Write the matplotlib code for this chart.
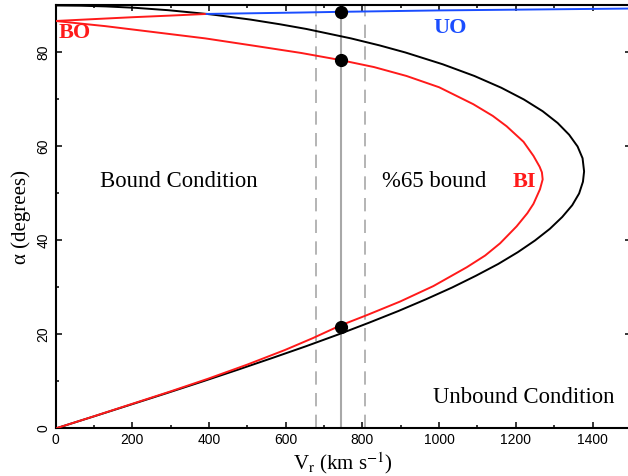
#%% IMPORTS
import matplotlib
matplotlib.use("Agg")
import numpy as np
import matplotlib.pyplot as plt
from matplotlib.ticker import MultipleLocator

#%% DATA
# black curve: bound / unbound limit, Vr [km/s] vs alpha [deg]
black_vr = [0, 97, 193, 289, 383, 475, 565, 653, 737, 817, 894, 966, 1034, 1096,
            1154, 1205, 1250, 1289, 1321, 1347, 1365, 1375, 1378,
            1374, 1361, 1339, 1309, 1270, 1221, 1162, 1092, 1009, 912, 845, 770, 654,
            585, 508, 415, 394, 293, 208, 131, 66, 0]
black_alpha = [0, 2.5, 5, 7.5, 10, 12.5, 15, 17.5, 20, 22.5, 25, 27.5, 30, 32.5,
               35, 37.5, 40, 42.5, 45, 47.5, 50, 52.5, 54.7,
               57.5, 60, 62.5, 65, 67.5, 70, 72.5, 75, 77.5, 80, 81.5, 83, 85,
               86, 87, 88, 88.2, 89, 89.5, 89.8, 89.95, 90]

# red curve: 65% bound limit (BI lower/upper branch, BO)
red_vr = [0, 100, 198, 300, 398, 500, 598, 670, 742, 811, 898, 985, 1072, 1120,
          1159, 1202, 1230, 1246, 1263, 1270, 1268, 1262, 1246, 1220, 1176, 1140,
          1089, 1000, 915, 830, 742, 640, 520, 390, 260, 130, 0]
red_alpha = [0, 2.6, 5.2, 7.9, 10.6, 13.6, 16.7, 19.2, 21.9, 24.1, 27.0, 30.3, 34.3, 36.8,
             39.4, 43.0, 45.8, 47.8, 50.9, 53.0, 54.5, 55.7, 58.0, 61.0, 64.3, 66.5,
             69.0, 72.6, 75.0, 76.9, 78.4, 79.9, 81.4, 83.0, 84.3, 85.6, 86.7]

# upper solution: red part (BO) then blue part (UO)
bo_vr = [0, 100, 200, 300, 394]
bo_alpha = [86.7, 87.1, 87.5, 87.85, 88.2]
uo_vr = [394, 640, 744, 1000, 1250, 1500]
uo_alpha = [88.2, 88.5, 88.65, 88.95, 89.15, 89.35]

# observed radial velocity and its error range
vr_obs = 744
vr_low = 680
vr_high = 808
sol_alpha = [88.7, 78.4, 21.6]

#%% PLOT
plt.rcParams['mathtext.fontset'] = 'stix'
serif = 'Liberation Serif'

fig = plt.figure(figsize=(6.28, 4.76), dpi=100)
ax = fig.add_axes([0.0885, 0.0998, 0.9161, 0.8887])

ax.axvline(vr_obs, color='#a8a8a8', lw=1.5, zorder=1)
for v in [vr_low, vr_high]:
    ax.axvline(v, color='#a8a8a8', lw=1.2, dashes=(8, 5), zorder=1)

ax.plot(black_vr, black_alpha, color='black', lw=1.4, zorder=2)
ax.plot(red_vr, red_alpha, color='#ff1a1a', lw=1.4, zorder=3)
ax.plot(bo_vr, bo_alpha, color='#ff1a1a', lw=1.4, zorder=3)
ax.plot(uo_vr, uo_alpha, color='#1a4dff', lw=1.4, zorder=3)
ax.plot([vr_obs]*len(sol_alpha), sol_alpha, 'o', color='black', ms=8.5, zorder=4)

# labels inside the plot
ax.text(9, 84.1, 'BO', color='#ff1a1a', fontsize=16, fontweight='bold',
        family=serif, ha='left', va='center')
ax.text(1028, 85.3, 'UO', color='#1a4dff', fontsize=16, fontweight='bold',
        family=serif, ha='center', va='center')
ax.text(1221, 52.5, 'BI', color='#ff1a1a', fontsize=16, fontweight='bold',
        family=serif, ha='center', va='center')
ax.text(322, 52.5, 'Bound Condition', fontsize=16.4, family=serif,
        ha='center', va='center')
ax.text(987, 52.6, '%65 bound', fontsize=16.4, family=serif,
        ha='center', va='center')
ax.text(1221, 6.5, 'Unbound Condition', fontsize=16.4, family=serif,
        ha='center', va='center')

ax.set_xlim(0, 1500)
ax.set_ylim(0, 90)
ax.xaxis.set_major_locator(MultipleLocator(200))
ax.xaxis.set_minor_locator(MultipleLocator(100))
ax.yaxis.set_major_locator(MultipleLocator(20))
ax.yaxis.set_minor_locator(MultipleLocator(10))
ax.tick_params(which='both', direction='in', top=True, right=True, width=1.1,
               labelsize=10, labelfontfamily='Liberation Sans')
ax.tick_params(which='major', length=4.5)
ax.tick_params(which='minor', length=2.5)
for lab in ax.get_yticklabels():
    lab.set_rotation(90)
    lab.set_va('center')
for s in ax.spines.values():
    s.set_linewidth(1.5)

ax.set_xlabel(r'V$_\mathrm{r}$ (km s$^{\mathrm{-1}}$)', fontsize=15, family=serif, labelpad=2)
ax.set_ylabel('α (degrees)', fontsize=15, family=serif, labelpad=4)

fig.savefig('out.png', dpi=100)
